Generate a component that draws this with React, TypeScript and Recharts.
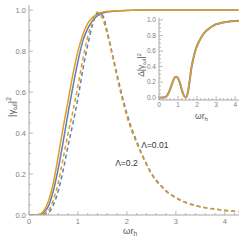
import { LineChart, Line, XAxis, YAxis, ReferenceDot } from 'recharts';

// main panel samples (x = ω r_h)
const mainX = [0, 0.1, 0.2, 0.3, 0.4, 0.5, 0.6, 0.7, 0.8, 0.9, 1.0, 1.1, 1.2, 1.3, 1.4, 1.5, 1.6, 1.7, 1.8, 1.9, 2.0, 2.1, 2.2, 2.3, 2.4, 2.5, 2.6, 2.7, 2.8, 2.9, 3.0, 3.2, 3.4, 3.6, 3.8, 4.0, 4.28];
const solidOrange = [0, 0.0002, 0.003, 0.02, 0.07, 0.16, 0.29, 0.43, 0.56, 0.69, 0.8, 0.88, 0.935, 0.965, 0.982, 0.99, 0.994, 0.996, 0.997, 0.998, 0.999, 0.999, 1, 1, 1, 1, 1, 1, 1, 1, 1, 1, 1, 1, 1, 1, 1];
const solidBlue = [0, 0.0001, 0.0015, 0.011, 0.045, 0.12, 0.23, 0.36, 0.5, 0.63, 0.75, 0.85, 0.91, 0.95, 0.973, 0.985, 0.991, 0.994, 0.996, 0.997, 0.998, 0.999, 0.999, 1, 1, 1, 1, 1, 1, 1, 1, 1, 1, 1, 1, 1, 1];
const dashedOrange = [0, 0.0001, 0.001, 0.006, 0.022, 0.075, 0.16, 0.28, 0.4, 0.51, 0.63, 0.76, 0.87, 0.95, 0.99, 0.96, 0.88, 0.78, 0.67, 0.57, 0.48, 0.41, 0.35, 0.295, 0.245, 0.2, 0.165, 0.14, 0.115, 0.098, 0.083, 0.06, 0.045, 0.035, 0.028, 0.022, 0.016];
const dashedBlue = [0, 0, 0.0005, 0.003, 0.012, 0.05, 0.12, 0.22, 0.34, 0.45, 0.57, 0.71, 0.83, 0.93, 0.985, 0.975, 0.895, 0.79, 0.685, 0.585, 0.495, 0.42, 0.36, 0.3, 0.25, 0.205, 0.17, 0.143, 0.118, 0.1, 0.085, 0.062, 0.047, 0.036, 0.029, 0.023, 0.017];

// inset: Δ|γ|²
const insetX = [0, 0.2, 0.3, 0.4, 0.5, 0.6, 0.7, 0.8, 0.9, 1.0, 1.1, 1.2, 1.3, 1.4, 1.5, 1.6, 1.7, 1.8, 1.9, 2.0, 2.2, 2.4, 2.6, 2.8, 3.0, 3.3, 3.6, 4.0, 4.2];
const insetBlue = [0, 0.001, 0.005, 0.02, 0.06, 0.12, 0.19, 0.25, 0.27, 0.25, 0.19, 0.1, 0.03, 0.002, 0.05, 0.2, 0.38, 0.5, 0.6, 0.67, 0.77, 0.84, 0.885, 0.92, 0.945, 0.965, 0.978, 0.988, 0.99];
const insetOrange = [0, 0.001, 0.005, 0.02, 0.06, 0.12, 0.19, 0.25, 0.27, 0.25, 0.19, 0.1, 0.03, 0.002, 0.05, 0.2, 0.38, 0.5, 0.6, 0.67, 0.77, 0.84, 0.885, 0.92, 0.945, 0.965, 0.978, 0.988, 0.99];

const xTicks = [0, 0.2, 0.4, 0.6, 0.8, 1, 1.2, 1.4, 1.6, 1.8, 2, 2.2, 2.4, 2.6, 2.8, 3, 3.2, 3.4, 3.6, 3.8, 4, 4.2];
const yTicks = [0, 0.05, 0.1, 0.15, 0.2, 0.25, 0.3, 0.35, 0.4, 0.45, 0.5, 0.55, 0.6, 0.65, 0.7, 0.75, 0.8, 0.85, 0.9, 0.95, 1];

const BLUE = '#5E81B5';
const ORANGE = '#E19C24';
const FRAME = '#A8A8A8';
const TICK_TEXT = '#808080';
const FONT = '"Liberation Sans", Arial, sans-serif';

const mainData = mainX.map((x, i) => ({
  x,
  so: solidOrange[i],
  sb: solidBlue[i],
  dor: dashedOrange[i],
  db: dashedBlue[i],
}));

const insetData = insetX.map((x, i) => ({ x, b: insetBlue[i], o: insetOrange[i] }));

function isMajor(v: number, step: number) {
  const r = v / step;
  return Math.abs(r - Math.round(r)) < 1e-6;
}

function makeTick(side: string, step: number, digits: number, showLabel: boolean, fontSize: number, gap: number) {
  return (props: any) => {
    const { x, y, payload } = props;
    const v = payload.value;
    const major = isMajor(v, step);
    const len = major ? 4 : 2;
    let x2 = x;
    let y2 = y;
    if (side === 'left') x2 = x + len;
    if (side === 'right') x2 = x - len;
    if (side === 'bottom') y2 = y - len;
    if (side === 'top') y2 = y + len;
    const label = v.toFixed(digits);
    return (
      <g>
        <line x1={x} y1={y} x2={x2} y2={y2} stroke={FRAME} strokeWidth={0.8} />
        {showLabel && major && side === 'left' && (
          <text x={x - gap} y={y + fontSize * 0.35} textAnchor="end" fontSize={fontSize} fill={TICK_TEXT} fontFamily={FONT}>
            {label}
          </text>
        )}
        {showLabel && major && side === 'bottom' && (
          <text x={x} y={y + gap} textAnchor="middle" fontSize={fontSize} fill={TICK_TEXT} fontFamily={FONT}>
            {label}
          </text>
        )}
      </g>
    );
  };
}

const titleStyle = { fontFamily: FONT, fill: '#555' };

export default function App() {
  return (
    <div style={{ position: 'absolute', left: 0, top: 0, width: 240, height: 240, background: '#fff' }}>
      <LineChart width={240} height={240} data={mainData} margin={{ top: 5, right: 1, bottom: 0, left: 0 }}>
        <XAxis
          xAxisId="b"
          dataKey="x"
          type="number"
          domain={[0, 4.29]}
          ticks={xTicks}
          interval={0}
          height={25}
          tickSize={0}
          tickMargin={0}
          tickLine={false}
          axisLine={{ stroke: FRAME }}
          allowDataOverflow
          tick={makeTick('bottom', 1, 0, true, 7.5, 9)}
          label={{
            content: () => (
              <text x={123} y={234} fontSize={9.5} style={titleStyle}>
                ωr<tspan dy={2} fontSize={6.5}>h</tspan>
              </text>
            ),
          }}
        />
        <XAxis
          xAxisId="t"
          orientation="top"
          dataKey="x"
          type="number"
          domain={[0, 4.29]}
          ticks={xTicks}
          interval={0}
          height={0}
          tickSize={0}
          tickMargin={0}
          tickLine={false}
          axisLine={{ stroke: FRAME }}
          allowDataOverflow
          tick={makeTick('top', 1, 0, false, 7.5, 0)}
        />
        <YAxis
          yAxisId="l"
          type="number"
          domain={[0, 1.025]}
          ticks={yTicks}
          interval={0}
          width={29}
          tickSize={0}
          tickMargin={0}
          tickLine={false}
          axisLine={{ stroke: FRAME }}
          allowDataOverflow
          tick={makeTick('left', 0.2, 1, true, 7.5, 3)}
          label={{
            content: () => (
              <text transform="translate(15,107) rotate(-90)" textAnchor="middle" fontSize={9.5} style={titleStyle}>
                |γ<tspan dy={2} fontSize={6.5}>ωl</tspan>
                <tspan dy={-2}>|</tspan>
                <tspan dy={-4} fontSize={6.5}>2</tspan>
              </text>
            ),
          }}
        />
        <YAxis
          yAxisId="r"
          orientation="right"
          type="number"
          domain={[0, 1.025]}
          ticks={yTicks}
          interval={0}
          width={0}
          tickSize={0}
          tickMargin={0}
          tickLine={false}
          axisLine={{ stroke: FRAME }}
          allowDataOverflow
          tick={makeTick('right', 0.2, 1, false, 7.5, 0)}
        />
        <Line xAxisId="b" yAxisId="l" type="monotone" dataKey="sb" stroke={BLUE} strokeWidth={1.5} dot={false} isAnimationActive={false} />
        <Line xAxisId="b" yAxisId="l" type="monotone" dataKey="so" stroke={ORANGE} strokeWidth={1.5} dot={false} isAnimationActive={false} />
        <Line xAxisId="b" yAxisId="l" type="monotone" dataKey="db" stroke={BLUE} strokeWidth={1.5} strokeDasharray="4 3" dot={false} isAnimationActive={false} />
        <Line xAxisId="b" yAxisId="l" type="monotone" dataKey="dor" stroke={ORANGE} strokeWidth={1.5} strokeDasharray="4 3" dot={false} isAnimationActive={false} />
        <ReferenceDot
          xAxisId="b"
          yAxisId="l"
          x={2.57}
          y={0.34}
          r={0}
          fill="none"
          stroke="none"
          label={{ value: 'Λ=0.01', position: 'center', fontSize: 8.5, fill: '#333', fontFamily: FONT }}
        />
        <ReferenceDot
          xAxisId="b"
          yAxisId="l"
          x={1.99}
          y={0.254}
          r={0}
          fill="none"
          stroke="none"
          label={{ value: 'Λ=0.2', position: 'center', fontSize: 8.5, fill: '#333', fontFamily: FONT }}
        />
      </LineChart>

      <div style={{ position: 'absolute', left: 130, top: 10 }}>
        <LineChart width={110} height={115} data={insetData} margin={{ top: 8, right: 1, bottom: 0, left: 0 }}>
          <XAxis
            xAxisId="b"
            dataKey="x"
            type="number"
            domain={[0, 4.2]}
            ticks={xTicks.slice(0, 21)}
            interval={0}
            height={25}
            tickSize={0}
            tickMargin={0}
            tickLine={false}
            axisLine={{ stroke: FRAME }}
            allowDataOverflow
            tick={makeTick('bottom', 1, 0, true, 6.5, 7)}
            label={{
              content: () => (
                <text x={65} y={109} fontSize={8.5} style={titleStyle}>
                  ωr<tspan dy={2} fontSize={6}>h</tspan>
                </text>
              ),
            }}
          />
          <XAxis
            xAxisId="t"
            orientation="top"
            dataKey="x"
            type="number"
            domain={[0, 4.2]}
            ticks={xTicks.slice(0, 21)}
            interval={0}
            height={0}
            tickSize={0}
            tickMargin={0}
            tickLine={false}
            axisLine={{ stroke: FRAME }}
            allowDataOverflow
            tick={makeTick('top', 1, 0, false, 6.5, 0)}
          />
          <YAxis
            yAxisId="l"
            type="number"
            domain={[-0.03, 1.026]}
            ticks={yTicks}
            interval={0}
            width={29}
            tickSize={0}
            tickMargin={0}
            tickLine={false}
            axisLine={{ stroke: FRAME }}
            allowDataOverflow
            tick={makeTick('left', 0.2, 1, true, 6.5, 3)}
            label={{
              content: () => (
                <text transform="translate(14,55) rotate(-90)" textAnchor="middle" fontSize={8.5} style={titleStyle}>
                  Δ|γ<tspan dy={2} fontSize={6}>ωl</tspan>
                  <tspan dy={-2}>|</tspan>
                  <tspan dy={-3.5} fontSize={6}>2</tspan>
                </text>
              ),
            }}
          />
          <YAxis
            yAxisId="r"
            orientation="right"
            type="number"
            domain={[-0.03, 1.026]}
            ticks={yTicks}
            interval={0}
            width={0}
            tickSize={0}
            tickMargin={0}
            tickLine={false}
            axisLine={{ stroke: FRAME }}
            allowDataOverflow
            tick={makeTick('right', 0.2, 1, false, 6.5, 0)}
          />
          <Line xAxisId="b" yAxisId="l" type="monotone" dataKey="b" stroke={BLUE} strokeWidth={2} dot={false} isAnimationActive={false} />
          <Line xAxisId="b" yAxisId="l" type="monotone" dataKey="o" stroke={ORANGE} strokeWidth={1.5} dot={false} isAnimationActive={false} />
        </LineChart>
      </div>
    </div>
  );
}
